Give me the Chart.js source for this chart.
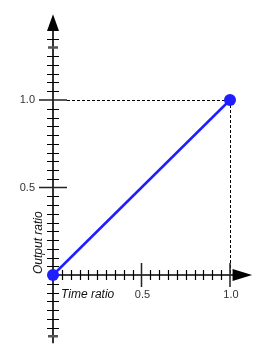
<!DOCTYPE html>
<html>
<head>
<meta charset="utf-8">
<script src="https://cdn.jsdelivr.net/npm/chart.js@4/dist/chart.umd.min.js"></script>
<style>
  html, body { margin: 0; padding: 0; background: #fff; }
  #chart { display: block; }
</style>
</head>
<body>
<canvas id="chart" width="270" height="355"></canvas>
<script>
// Dados: razão de tempo x razão de saída
const timeRatio = [0, 1];
const outputRatio = [0, 1];

// Eixos (valores)
const xAxisRange = [0, 1.125];
const yAxisRange = [-0.39, 1.49];
const xMinorTicks = [0.05, 0.1, 0.15, 0.2, 0.25, 0.3, 0.35, 0.4, 0.45, 0.55, 0.6, 0.65, 0.7, 0.75, 0.8, 0.85, 0.9, 0.95];
const xMajorTicks = [0.5, 1.0];
const xTickLabels = ['0.5', '1.0'];
const yMinorTicks = [-0.3, -0.25, -0.2, -0.15, -0.1, -0.05, 0.05, 0.1, 0.15, 0.2, 0.25, 0.3, 0.35, 0.4, 0.45,
  0.55, 0.6, 0.65, 0.7, 0.75, 0.8, 0.85, 0.9, 0.95, 1.05, 1.1, 1.15, 1.2, 1.25, 1.35];
const yEndTicks = [-0.35, 1.3];
const yMajorTicks = [0.5, 1.0];
const yTickLabels = ['0.5', '1.0'];
const xTitle = 'Time ratio';
const yTitle = 'Output ratio';

const FONT = '"Liberation Sans", Arial, sans-serif';

const axesPlugin = {
  id: 'eixosSeta',
  beforeDatasetsDraw(chart) {
    const { ctx, scales } = chart;
    const sx = scales.x;
    const sy = scales.y;
    const x0 = sx.getPixelForValue(0);
    const y0 = sy.getPixelForValue(0);
    ctx.save();

    // linhas tracejadas até (1,1)
    const x1 = sx.getPixelForValue(1);
    const y1 = sy.getPixelForValue(1);
    ctx.strokeStyle = '#000';
    ctx.lineWidth = 1;
    ctx.setLineDash([3, 2]);
    ctx.beginPath();
    ctx.moveTo(x0 + 14, y1 + 0.5);
    ctx.lineTo(x1, y1 + 0.5);
    ctx.moveTo(x1 + 0.5, y1);
    ctx.lineTo(x1 + 0.5, y0);
    ctx.stroke();
    ctx.setLineDash([]);

    // eixo y
    const yTop = sy.getPixelForValue(1.4);
    ctx.lineWidth = 1.6;
    ctx.beginPath();
    ctx.moveTo(x0, sy.getPixelForValue(yAxisRange[0]));
    ctx.lineTo(x0, yTop);
    ctx.stroke();
    ctx.fillStyle = '#000';
    ctx.beginPath();
    ctx.moveTo(x0, sy.getPixelForValue(yAxisRange[1]));
    ctx.lineTo(x0 - 6, yTop + 1);
    ctx.lineTo(x0 + 6, yTop + 1);
    ctx.closePath();
    ctx.fill();

    // eixo x
    const xEnd = sx.getPixelForValue(1.02);
    ctx.beginPath();
    ctx.moveTo(x0, y0);
    ctx.lineTo(xEnd, y0);
    ctx.stroke();
    ctx.beginPath();
    ctx.moveTo(sx.getPixelForValue(xAxisRange[1]), y0);
    ctx.lineTo(xEnd - 1, y0 - 6);
    ctx.lineTo(xEnd - 1, y0 + 6);
    ctx.closePath();
    ctx.fill();

    // marcas
    ctx.lineWidth = 1.2;
    ctx.beginPath();
    yMinorTicks.forEach((v) => {
      const p = Math.round(sy.getPixelForValue(v)) + 0.5;
      ctx.moveTo(x0 - 6, p);
      ctx.lineTo(x0 + 6, p);
    });
    xMinorTicks.forEach((v) => {
      const p = Math.round(sx.getPixelForValue(v)) + 0.5;
      ctx.moveTo(p, y0 - 5);
      ctx.lineTo(p, y0 + 5);
    });
    ctx.stroke();

    ctx.lineWidth = 1.5;
    ctx.strokeStyle = '#222';
    ctx.beginPath();
    yMajorTicks.forEach((v) => {
      const p = sy.getPixelForValue(v);
      ctx.moveTo(x0 - 14, p);
      ctx.lineTo(x0 + 14, p);
    });
    xMajorTicks.forEach((v) => {
      const p = sx.getPixelForValue(v);
      ctx.moveTo(p, y0 - 12);
      ctx.lineTo(p, y0 + 12);
    });
    ctx.stroke();

    ctx.lineWidth = 2.5;
    ctx.strokeStyle = '#555';
    ctx.beginPath();
    yEndTicks.forEach((v) => {
      const p = sy.getPixelForValue(v);
      ctx.moveTo(x0 - 5, p);
      ctx.lineTo(x0 + 5, p);
    });
    ctx.stroke();

    // rótulos
    ctx.fillStyle = '#333';
    ctx.font = `11px ${FONT}`;
    ctx.textAlign = 'right';
    ctx.textBaseline = 'middle';
    yMajorTicks.forEach((v, i) => {
      ctx.fillText(yTickLabels[i], x0 - 18, sy.getPixelForValue(v));
    });
    ctx.textAlign = 'center';
    ctx.textBaseline = 'alphabetic';
    xMajorTicks.forEach((v, i) => {
      ctx.fillText(xTickLabels[i], sx.getPixelForValue(v) + 1, y0 + 23);
    });

    ctx.fillStyle = '#111';
    ctx.font = `italic 12px ${FONT}`;
    ctx.textAlign = 'left';
    ctx.fillText(xTitle, x0 + 8, y0 + 23);
    ctx.save();
    ctx.translate(x0 - 11, y0 - 1);
    ctx.rotate(-Math.PI / 2);
    ctx.fillText(yTitle, 0, 0);
    ctx.restore();

    ctx.restore();
  },
};

new Chart(document.getElementById('chart'), {
  type: 'scatter',
  data: {
    datasets: [
      {
        data: timeRatio.map((x, i) => ({ x, y: outputRatio[i] })),
        showLine: true,
        borderColor: '#1e1eff',
        backgroundColor: '#1e1eff',
        borderWidth: 2.5,
        pointRadius: 6,
        pointBorderWidth: 0,
        clip: false,
      },
    ],
  },
  options: {
    responsive: false,
    animation: false,
    layout: { padding: { left: 53, right: 40, top: 100, bottom: 80 } },
    scales: {
      x: { type: 'linear', min: 0, max: 1, display: false },
      y: { type: 'linear', min: 0, max: 1, display: false },
    },
    plugins: {
      legend: { display: false },
      tooltip: { enabled: false },
    },
  },
  plugins: [axesPlugin],
});
</script>
</body>
</html>
